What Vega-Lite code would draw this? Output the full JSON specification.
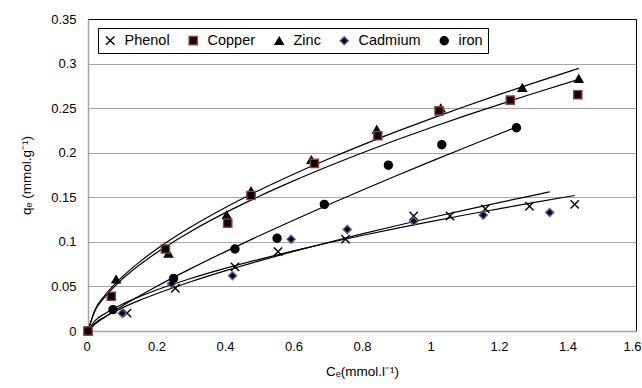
{
  "$schema": "https://vega.github.io/schema/vega-lite/v6.json",
  "width": 548,
  "height": 312,
  "autosize": "none",
  "padding": {"left": 88, "top": 19, "right": 6, "bottom": 57},
  "config": {
    "font": "Liberation Sans",
    "view": {"stroke": "black", "strokeWidth": 1}
  },
  "datasets": {
    "points": [
      {"series": "Phenol", "c": 0, "q": 0},
      {"series": "Phenol", "c": 0.114, "q": 0.02},
      {"series": "Phenol", "c": 0.255, "q": 0.048},
      {"series": "Phenol", "c": 0.429, "q": 0.072},
      {"series": "Phenol", "c": 0.555, "q": 0.089},
      {"series": "Phenol", "c": 0.752, "q": 0.103},
      {"series": "Phenol", "c": 0.951, "q": 0.129},
      {"series": "Phenol", "c": 1.057, "q": 0.129},
      {"series": "Phenol", "c": 1.16, "q": 0.137},
      {"series": "Phenol", "c": 1.289, "q": 0.14},
      {"series": "Phenol", "c": 1.421, "q": 0.142},
      {"series": "Cadmium", "c": 0, "q": 0},
      {"series": "Cadmium", "c": 0.1, "q": 0.02},
      {"series": "Cadmium", "c": 0.244, "q": 0.053},
      {"series": "Cadmium", "c": 0.422, "q": 0.062},
      {"series": "Cadmium", "c": 0.593, "q": 0.103},
      {"series": "Cadmium", "c": 0.757, "q": 0.114},
      {"series": "Cadmium", "c": 0.951, "q": 0.123},
      {"series": "Cadmium", "c": 1.154, "q": 0.13},
      {"series": "Cadmium", "c": 1.348, "q": 0.133},
      {"series": "iron", "c": 0, "q": 0},
      {"series": "iron", "c": 0.073, "q": 0.024},
      {"series": "iron", "c": 0.25, "q": 0.059},
      {"series": "iron", "c": 0.429, "q": 0.092},
      {"series": "iron", "c": 0.552, "q": 0.104},
      {"series": "iron", "c": 0.69, "q": 0.142},
      {"series": "iron", "c": 0.877, "q": 0.186},
      {"series": "iron", "c": 1.033, "q": 0.209},
      {"series": "iron", "c": 1.251, "q": 0.228},
      {"series": "Zinc", "c": 0, "q": 0},
      {"series": "Zinc", "c": 0.082, "q": 0.058},
      {"series": "Zinc", "c": 0.235, "q": 0.087},
      {"series": "Zinc", "c": 0.405, "q": 0.13},
      {"series": "Zinc", "c": 0.476, "q": 0.157},
      {"series": "Zinc", "c": 0.652, "q": 0.192},
      {"series": "Zinc", "c": 0.843, "q": 0.226},
      {"series": "Zinc", "c": 1.03, "q": 0.25},
      {"series": "Zinc", "c": 1.268, "q": 0.273},
      {"series": "Zinc", "c": 1.433, "q": 0.283},
      {"series": "Copper", "c": 0, "q": 0},
      {"series": "Copper", "c": 0.068, "q": 0.039},
      {"series": "Copper", "c": 0.226, "q": 0.092},
      {"series": "Copper", "c": 0.408, "q": 0.121},
      {"series": "Copper", "c": 0.476, "q": 0.152},
      {"series": "Copper", "c": 0.661, "q": 0.188},
      {"series": "Copper", "c": 0.846, "q": 0.219},
      {"series": "Copper", "c": 1.025, "q": 0.247},
      {"series": "Copper", "c": 1.233, "q": 0.259},
      {"series": "Copper", "c": 1.43, "q": 0.265}
    ],
    "fits": [
      {"fit": "Zinc", "c": 0, "q": 0}, {"fit": "Zinc", "c": 0.02, "q": 0.0234}, {"fit": "Zinc", "c": 0.05, "q": 0.0403},
      {"fit": "Zinc", "c": 0.1, "q": 0.0608}, {"fit": "Zinc", "c": 0.15, "q": 0.0773}, {"fit": "Zinc", "c": 0.2, "q": 0.0917},
      {"fit": "Zinc", "c": 0.3, "q": 0.1166}, {"fit": "Zinc", "c": 0.4, "q": 0.1383}, {"fit": "Zinc", "c": 0.5, "q": 0.1578},
      {"fit": "Zinc", "c": 0.6, "q": 0.1758}, {"fit": "Zinc", "c": 0.7, "q": 0.1926}, {"fit": "Zinc", "c": 0.8, "q": 0.2085},
      {"fit": "Zinc", "c": 0.9, "q": 0.2236}, {"fit": "Zinc", "c": 1.0, "q": 0.238}, {"fit": "Zinc", "c": 1.1, "q": 0.2519},
      {"fit": "Zinc", "c": 1.2, "q": 0.2652}, {"fit": "Zinc", "c": 1.3, "q": 0.2781}, {"fit": "Zinc", "c": 1.433, "q": 0.2946},
      {"fit": "Copper", "c": 0, "q": 0}, {"fit": "Copper", "c": 0.02, "q": 0.0224}, {"fit": "Copper", "c": 0.05, "q": 0.0386},
      {"fit": "Copper", "c": 0.1, "q": 0.0582}, {"fit": "Copper", "c": 0.15, "q": 0.074}, {"fit": "Copper", "c": 0.2, "q": 0.0878},
      {"fit": "Copper", "c": 0.3, "q": 0.1117}, {"fit": "Copper", "c": 0.4, "q": 0.1325}, {"fit": "Copper", "c": 0.5, "q": 0.1512},
      {"fit": "Copper", "c": 0.6, "q": 0.1684}, {"fit": "Copper", "c": 0.7, "q": 0.1845}, {"fit": "Copper", "c": 0.8, "q": 0.1997},
      {"fit": "Copper", "c": 0.9, "q": 0.2142}, {"fit": "Copper", "c": 1.0, "q": 0.228}, {"fit": "Copper", "c": 1.1, "q": 0.2413},
      {"fit": "Copper", "c": 1.2, "q": 0.254}, {"fit": "Copper", "c": 1.3, "q": 0.2664}, {"fit": "Copper", "c": 1.433, "q": 0.2822},
      {"fit": "iron", "c": 0, "q": 0}, {"fit": "iron", "c": 0.02, "q": 0.0074}, {"fit": "iron", "c": 0.05, "q": 0.0158},
      {"fit": "iron", "c": 0.1, "q": 0.0281}, {"fit": "iron", "c": 0.15, "q": 0.0393}, {"fit": "iron", "c": 0.2, "q": 0.05},
      {"fit": "iron", "c": 0.3, "q": 0.07}, {"fit": "iron", "c": 0.4, "q": 0.0888}, {"fit": "iron", "c": 0.5, "q": 0.1069},
      {"fit": "iron", "c": 0.6, "q": 0.1243}, {"fit": "iron", "c": 0.7, "q": 0.1413}, {"fit": "iron", "c": 0.8, "q": 0.1579},
      {"fit": "iron", "c": 0.9, "q": 0.1741}, {"fit": "iron", "c": 1.0, "q": 0.19}, {"fit": "iron", "c": 1.1, "q": 0.2056},
      {"fit": "iron", "c": 1.2, "q": 0.221}, {"fit": "iron", "c": 1.251, "q": 0.2288},
      {"fit": "Cadmium", "c": 0, "q": 0}, {"fit": "Cadmium", "c": 0.02, "q": 0.0086}, {"fit": "Cadmium", "c": 0.05, "q": 0.0161},
      {"fit": "Cadmium", "c": 0.1, "q": 0.0259}, {"fit": "Cadmium", "c": 0.15, "q": 0.0343}, {"fit": "Cadmium", "c": 0.2, "q": 0.0418},
      {"fit": "Cadmium", "c": 0.3, "q": 0.0553}, {"fit": "Cadmium", "c": 0.4, "q": 0.0675}, {"fit": "Cadmium", "c": 0.5, "q": 0.0787},
      {"fit": "Cadmium", "c": 0.6, "q": 0.0893}, {"fit": "Cadmium", "c": 0.7, "q": 0.0993}, {"fit": "Cadmium", "c": 0.8, "q": 0.1089},
      {"fit": "Cadmium", "c": 0.9, "q": 0.1181}, {"fit": "Cadmium", "c": 1.0, "q": 0.127}, {"fit": "Cadmium", "c": 1.1, "q": 0.1356},
      {"fit": "Cadmium", "c": 1.2, "q": 0.144}, {"fit": "Cadmium", "c": 1.3, "q": 0.1522}, {"fit": "Cadmium", "c": 1.348, "q": 0.1561},
      {"fit": "Phenol", "c": 0, "q": 0}, {"fit": "Phenol", "c": 0.02, "q": 0.0113}, {"fit": "Phenol", "c": 0.05, "q": 0.0197},
      {"fit": "Phenol", "c": 0.1, "q": 0.0301}, {"fit": "Phenol", "c": 0.15, "q": 0.0386}, {"fit": "Phenol", "c": 0.2, "q": 0.046},
      {"fit": "Phenol", "c": 0.3, "q": 0.0589}, {"fit": "Phenol", "c": 0.4, "q": 0.0702}, {"fit": "Phenol", "c": 0.5, "q": 0.0804},
      {"fit": "Phenol", "c": 0.6, "q": 0.0899}, {"fit": "Phenol", "c": 0.7, "q": 0.0987}, {"fit": "Phenol", "c": 0.8, "q": 0.1071},
      {"fit": "Phenol", "c": 0.9, "q": 0.1151}, {"fit": "Phenol", "c": 1.0, "q": 0.1227}, {"fit": "Phenol", "c": 1.1, "q": 0.1301},
      {"fit": "Phenol", "c": 1.2, "q": 0.1371}, {"fit": "Phenol", "c": 1.3, "q": 0.144}, {"fit": "Phenol", "c": 1.421, "q": 0.152}
    ]
  },
  "encoding": {
    "x": {
      "field": "c", "type": "quantitative",
      "scale": {"domain": [0, 1.6], "nice": false},
      "axis": {
        "title": "Cₑ(mmol.l⁻¹)",
        "values": [0, 0.2, 0.4, 0.6, 0.8, 1, 1.2, 1.4, 1.6],
        "format": "~g",
        "labelFlush": true,
        "labelFlushOffset": 5,
        "grid": false, "ticks": false,
        "domainColor": "#a6a6a6", "domainWidth": 1.5,
        "labelFontSize": 13, "labelColor": "black", "labelPadding": 9,
        "titleFontSize": 13.5, "titleFontWeight": "normal", "titleColor": "black", "titlePadding": 11
      }
    },
    "y": {
      "field": "q", "type": "quantitative",
      "scale": {"domain": [0, 0.35], "nice": false},
      "axis": {
        "title": "qₑ (mmol.g⁻¹)",
        "values": [0, 0.05, 0.1, 0.15, 0.2, 0.25, 0.3, 0.35],
        "format": "~g",
        "labelFlush": false,
        "grid": true,
        "gridColor": {"condition": {"test": "datum.value >= 0.35", "value": "black"}, "value": "#a6a6a6"},
        "gridWidth": 1.2,
        "ticks": false,
        "domainColor": "#a6a6a6", "domainWidth": 1.5,
        "labelFontSize": 13, "labelColor": "black", "labelPadding": 12,
        "titleFontSize": 13.5, "titleFontWeight": "normal", "titleColor": "black", "titlePadding": 17
      }
    }
  },
  "layer": [
    {
      "data": {"name": "fits"},
      "mark": {"type": "line", "color": "black", "strokeWidth": 1.2, "interpolate": "monotone"},
      "encoding": {"detail": {"field": "fit"}}
    },
    {
      "data": {"name": "points"},
      "mark": {"type": "point", "filled": false, "opacity": 1, "strokeWidth": 1.4},
      "encoding": {
        "shape": {
          "field": "series", "type": "nominal",
          "scale": {
            "domain": ["Phenol", "Copper", "Zinc", "Cadmium", "iron"],
            "range": ["M-1,-1L1,1M-1,1L1,-1", "square", "triangle-up", "diamond", "circle"]
          },
          "legend": {
            "title": null, "orient": "none", "legendX": 10, "legendY": 9,
            "direction": "horizontal", "columns": 5,
            "strokeColor": "black", "fillColor": "white", "padding": 5,
            "labelFontSize": 14.5, "labelColor": "black", "labelOffset": 7, "columnPadding": 16,
            "symbolStrokeWidth": 1.4
          }
        },
        "fill": {
          "field": "series", "type": "nominal",
          "scale": {
            "domain": ["Phenol", "Copper", "Zinc", "Cadmium", "iron"],
            "range": ["transparent", "black", "black", "black", "black"]
          }
        },
        "stroke": {
          "field": "series", "type": "nominal",
          "scale": {
            "domain": ["Phenol", "Copper", "Zinc", "Cadmium", "iron"],
            "range": ["black", "#9e3b3b", "black", "#6b5a9e", "black"]
          }
        },
        "size": {
          "field": "series", "type": "nominal",
          "scale": {
            "domain": ["Phenol", "Copper", "Zinc", "Cadmium", "iron"],
            "range": [70, 64, 80, 50, 80]
          }
        }
      }
    }
  ]
}
